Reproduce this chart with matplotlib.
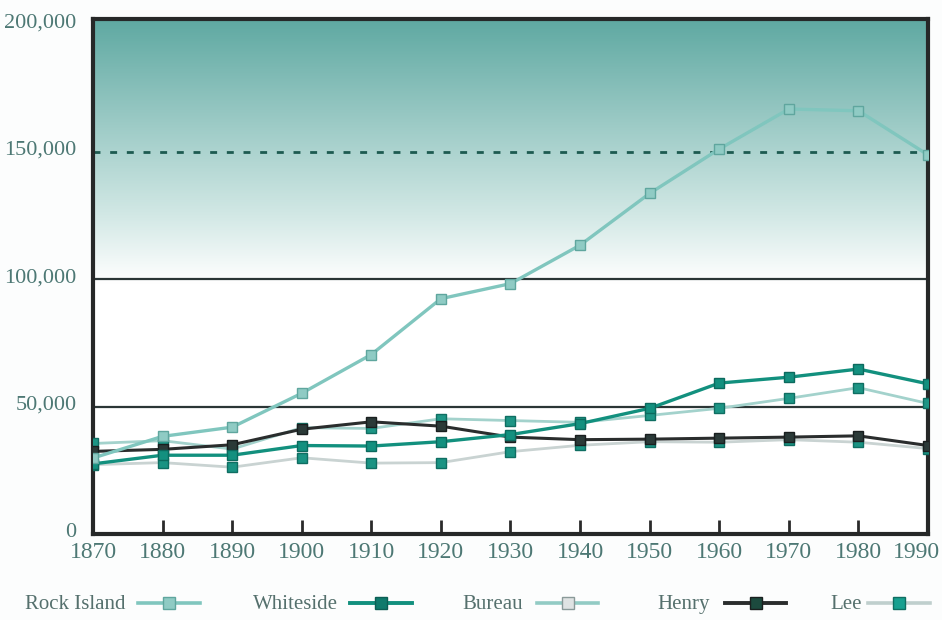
import matplotlib.pyplot as plt
import numpy as np
from matplotlib.colors import LinearSegmentedColormap
from matplotlib.lines import Line2D
from matplotlib.transforms import ScaledTranslation

plt.rcParams['font.family'] = ['Liberation Serif', 'DejaVu Serif']

years = [1870, 1880, 1890, 1900, 1910, 1920, 1930, 1940, 1950, 1960, 1970, 1980, 1990]

# population values
rock_island = [29800, 38300, 41900, 55200, 70400, 92300, 98200, 113300, 133600, 151000, 166700, 166000, 148700]
whiteside = [27500, 30900, 30900, 34700, 34500, 36200, 39000, 43300, 49300, 59200, 61500, 64700, 58900]
bureau = [35500, 36600, 33300, 41700, 41400, 45200, 44500, 43800, 46500, 49300, 53200, 57400, 51200]
henry = [32400, 33200, 35000, 41100, 44000, 42300, 38000, 37000, 37200, 37600, 38000, 38500, 34700]
lee = [27200, 28000, 26200, 29900, 27800, 28000, 32300, 34800, 36200, 36000, 37000, 36000, 33500]

names = ['Rock Island', 'Whiteside', 'Bureau', 'Henry', 'Lee']
yticks = [0, 50000, 100000, 150000, 200000]
ytick_labels = ['0', '50,000', '100,000', '150,000', '200,000']

# line colour, marker face, marker edge, line width
styles = {
    'Rock Island': ('#80c6be', '#8fcbc4', '#5fa69e', 2.4),
    'Whiteside': ('#12907e', '#13907f', '#0c6a5e', 2.4),
    'Bureau': ('#a3d2cc', '#1d9585', '#0f6e62', 2.0),
    'Henry': ('#2a2d2d', '#2b3a38', '#1a1f1f', 2.2),
    'Lee': ('#c9d3d2', '#1a9383', '#0f6e62', 2.0),
}
legend_styles = {
    'Rock Island': ('#80c6be', '#8fcbc4', '#5fa69e', 2.6),
    'Whiteside': ('#12907e', '#0f7a6c', '#0c5e54', 2.8),
    'Bureau': ('#92cbc4', '#dfe3e3', '#8a9a99', 2.6),
    'Henry': ('#2a2d2d', '#1c4a3e', '#1a1f1f', 2.8),
    'Lee': ('#bfcfcd', '#18a090', '#0f6e62', 2.6),
}
series = [rock_island, whiteside, bureau, henry, lee]

W, H = 942, 620
fig = plt.figure(figsize=(W / 100, H / 100), dpi=100, facecolor='#fcfdfd')
ax = fig.add_axes([93 / W, 1 - 534 / H, 835 / W, 515 / H])

# teal-to-white gradient background
cmap = LinearSegmentedColormap.from_list('bg', [(0, '#ffffff'), (0.49, '#ffffff'), (0.62, '#d2e8e5'), (1.0, '#5fa9a2')])
grad = np.linspace(0, 1, 256).reshape(-1, 1)
ax.imshow(grad, extent=[0, 1, 0, 1], transform=ax.transAxes, origin='lower',
          aspect='auto', cmap=cmap, zorder=0)

ax.axhline(50000, color='#2b3636', lw=1.6, zorder=1)
ax.axhline(100000, color='#2b3636', lw=1.6, zorder=1)
ax.axhline(150000, color='#1d5a50', lw=2.0, ls=(0, (2.5, 3.5)), zorder=1)

order = ['Lee', 'Bureau', 'Henry', 'Whiteside', 'Rock Island']
for name in order:
    vals = series[names.index(name)]
    lc, mf, me, lw = styles[name]
    ax.plot(years, vals, color=lc, lw=lw, marker='s', ms=7.5, mfc=mf, mec=me, mew=1.0, zorder=3)

ax.set_xlim(1870, 1990)
ax.set_ylim(0, 202000)
ax.set_xticks(years)
ax.set_xticklabels([str(y) for y in years])
ax.set_yticks(yticks)
ax.set_yticklabels(ytick_labels)
ax.tick_params(axis='x', direction='in', length=10, width=2, color='#2a2a2a',
               labelsize=17, labelcolor='#4d7874', pad=6)
ax.tick_params(axis='y', length=0, labelsize=16, labelcolor='#4d7874', pad=12)
up = ScaledTranslation(0, 4 / 100, fig.dpi_scale_trans)
for lab in ax.get_yticklabels():
    lab.set_transform(lab.get_transform() + up)
last = ax.get_xticklabels()[-1]
last.set_transform(last.get_transform() + ScaledTranslation(-12 / 100, 0, fig.dpi_scale_trans))
for s in ax.spines.values():
    s.set_linewidth(3)
    s.set_color('#262828')

# legend row along the bottom: label text, then line sample with marker
text_x = [25, 253, 462, 657, 830]
handle_x = [(138, 200), (350, 412), (537, 598), (725, 786), (868, 930)]
ly = 1 - 603 / H
text_base = 1 - 609 / H
for name, tx, (h0, h1) in zip(names, text_x, handle_x):
    fig.text(tx / W, text_base, name, fontsize=15, color='#55706d', va='baseline', ha='left')
    lc, mf, me, lw = legend_styles[name]
    fig.add_artist(Line2D([h0 / W, h1 / W], [ly, ly], color=lc, lw=lw, transform=fig.transFigure))
    fig.add_artist(Line2D([(h0 + h1) / 2 / W], [ly], marker='s', ms=8, mfc=mf, mec=me,
                          transform=fig.transFigure))

fig.savefig('out.png', dpi=100, facecolor=fig.get_facecolor())
